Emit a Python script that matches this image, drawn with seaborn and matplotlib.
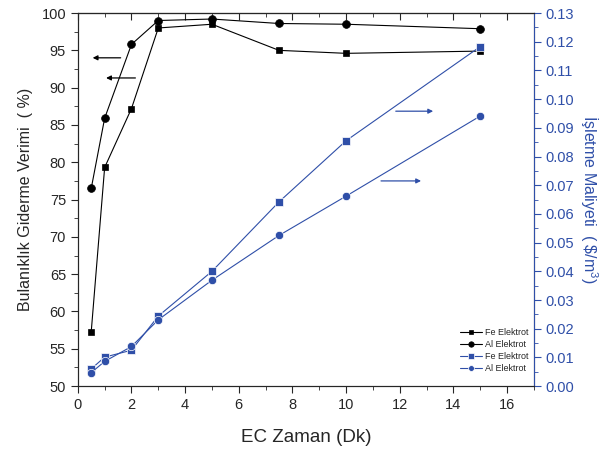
import matplotlib
matplotlib.use("Agg")
import matplotlib.pyplot as plt
import seaborn as sns
import pandas as pd
from matplotlib.ticker import MultipleLocator, FormatStrFormatter

# ---- data ----
time_min = [0.5, 1, 2, 3, 5, 7.5, 10, 15]
fe_removal = [57.3, 79.3, 87.2, 98.0, 98.5, 95.0, 94.6, 94.9]
al_removal = [76.5, 85.9, 95.8, 99.0, 99.2, 98.6, 98.5, 97.9]
fe_cost = [0.0060, 0.0101, 0.0125, 0.0244, 0.0400, 0.0642, 0.0855, 0.1183]
al_cost = [0.0047, 0.0086, 0.0138, 0.0231, 0.0369, 0.0525, 0.0662, 0.0941]
series_labels = ["Fe Elektrot", "Al Elektrot", "Fe Elektrot", "Al Elektrot"]

xlabel = "EC Zaman (Dk)"
ylabel_left = "Bulanıklık Giderme Verimi  ( %)"
ylabel_right = r"İşletme Maliyeti  ( \$/m$^{3}$)"

sns.set_style("ticks")
plt.rcParams['font.family'] = ['Liberation Sans', 'DejaVu Sans']
plt.rcParams['mathtext.fontset'] = 'custom'
plt.rcParams['mathtext.rm'] = 'Liberation Sans'

BLUE = "#2f4fa8"

df = pd.DataFrame({"t": time_min, "fe_r": fe_removal, "al_r": al_removal,
                   "fe_c": fe_cost, "al_c": al_cost})

fig = plt.figure(figsize=(6.08, 4.5), dpi=100)
ax = fig.add_axes([0.128, 0.142, 0.75, 0.829])
ax2 = ax.twinx()

sns.lineplot(data=df, x="t", y="fe_r", ax=ax, color="black", marker="s",
             markersize=5, mec="black", mew=0.5, lw=0.8, label=series_labels[0], legend=False)
sns.lineplot(data=df, x="t", y="al_r", ax=ax, color="black", marker="o",
             markersize=5.6, mec="black", mew=0.5, lw=0.8, label=series_labels[1], legend=False)
sns.lineplot(data=df, x="t", y="fe_c", ax=ax2, color=BLUE, marker="s",
             markersize=5.6, mew=0.5, lw=0.8, label=series_labels[2], legend=False)
sns.lineplot(data=df, x="t", y="al_c", ax=ax2, color=BLUE, marker="o",
             markersize=6, mew=0.5, lw=0.8, label=series_labels[3], legend=False)

ax.set_xlim(0, 17)
ax.set_ylim(50, 100)
ax2.set_ylim(0, 0.13)

ax.xaxis.set_major_locator(MultipleLocator(2))
ax.xaxis.set_minor_locator(MultipleLocator(1))
ax.yaxis.set_major_locator(MultipleLocator(5))
ax.yaxis.set_minor_locator(MultipleLocator(2.5))
ax2.yaxis.set_major_locator(MultipleLocator(0.01))
ax2.yaxis.set_minor_locator(MultipleLocator(0.005))
ax2.yaxis.set_major_formatter(FormatStrFormatter("%.2f"))

ax.tick_params(axis="x", which="major", direction="out", length=5, labelsize=10.5, top=False)
ax.tick_params(axis="x", which="minor", direction="out", length=3, top=False)
ax.tick_params(axis="y", which="major", direction="out", length=5, labelsize=10.5)
ax.tick_params(axis="y", which="minor", direction="out", length=3)
ax2.tick_params(axis="y", which="major", direction="out", length=5, labelsize=10.5,
                colors=BLUE)
ax2.tick_params(axis="y", which="minor", direction="out", length=3, colors=BLUE)
ax2.spines["right"].set_color(BLUE)
for sp in ["top", "right"]:
    ax.spines[sp].set_visible(True)
ax2.spines["top"].set_visible(True)

# top ticks pointing inward
secx = ax.secondary_xaxis("top")
secx.xaxis.set_major_locator(MultipleLocator(2))
secx.xaxis.set_minor_locator(MultipleLocator(1))
secx.tick_params(axis="x", which="major", direction="in", length=5, labeltop=False)
secx.tick_params(axis="x", which="minor", direction="in", length=3, labeltop=False)

ax.set_xlabel(xlabel, fontsize=13.5, labelpad=12)
ax.set_ylabel(ylabel_left, fontsize=11.5, labelpad=6)
ax2.set_ylabel(ylabel_right, fontsize=11.5, color=BLUE, rotation=270, labelpad=18)

# arrows
arr_k = dict(arrowstyle="-|>", color="black", lw=0.9, mutation_scale=7)
ax.annotate("", xy=(0.45, 94.0), xytext=(1.7, 94.0), arrowprops=arr_k)
ax.annotate("", xy=(0.95, 91.3), xytext=(2.25, 91.3), arrowprops=arr_k)
arr_b = dict(arrowstyle="-|>", color=BLUE, lw=0.9, mutation_scale=7)
ax2.annotate("", xy=(13.35, 0.0958), xytext=(11.75, 0.0958), arrowprops=arr_b)
ax2.annotate("", xy=(12.9, 0.0715), xytext=(11.2, 0.0715), arrowprops=arr_b)

h1, l1 = ax.get_legend_handles_labels()
h2, l2 = ax2.get_legend_handles_labels()
leg = ax2.legend(h1 + h2, l1 + l2, loc="lower right", fontsize=6.5, frameon=False,
                 handlelength=2.5, handletextpad=0.3, labelspacing=0.35,
                 markerscale=0.7, bbox_to_anchor=(1.0, 0.02), borderaxespad=0.2)

fig.savefig("out.png", dpi=100)
